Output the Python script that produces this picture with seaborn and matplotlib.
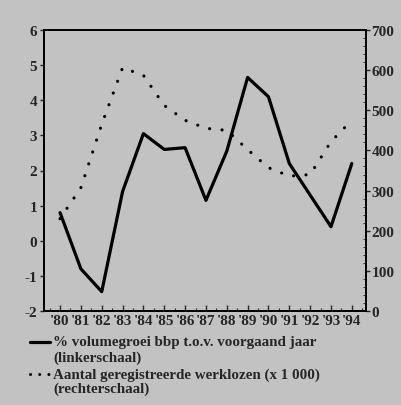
import numpy as np
import pandas as pd
import matplotlib
matplotlib.use('Agg')
import matplotlib.pyplot as plt
from matplotlib.lines import Line2D
import seaborn as sns

# Data
years = ["'80", "'81", "'82", "'83", "'84", "'85", "'86", "'87",
         "'88", "'89", "'90", "'91", "'92", "'93", "'94"]
bbp_groei = [0.8, -0.8, -1.45, 1.4, 3.05, 2.6, 2.65, 1.15,
             2.55, 4.65, 4.1, 2.2, 1.3, 0.4, 2.2]
werklozen = [230, 307, 465, 606, 587, 512, 475, 455,
             450, 402, 357, 336, 340, 422, 475]

df = pd.DataFrame({'idx': range(len(years)), 'bbp': bbp_groei, 'wl': werklozen})

bg = '#c2c2c2'
sns.set_style('ticks')
plt.rcParams['font.family'] = ['Liberation Serif', 'DejaVu Serif']
plt.rcParams['font.weight'] = 'bold'
plt.rcParams['axes.unicode_minus'] = False

fig = plt.figure(figsize=(4.02, 4.06), dpi=100, facecolor=bg)
ax = fig.add_axes([44 / 402, 1 - 312 / 406, (366 - 44) / 402, (312 - 31) / 406])
ax.set_facecolor(bg)
ax2 = ax.twinx()

# solid line: GDP growth, left scale
sns.lineplot(x='idx', y='bbp', data=df, ax=ax, color='black', linewidth=2.3)
# dotted line: registered unemployed, right scale
sns.lineplot(x='idx', y='wl', data=df, ax=ax2, color='black', linewidth=2.3,
             linestyle=(0, (0.01, 3.9)), dash_capstyle='round')

ax.set_xlim(-0.77, 14.68)
ax.set_ylim(-2, 6)
ax2.set_ylim(0, 700)
ax.set_xticks(range(len(years)))
ax.set_xticklabels(years)
ax.set_xticks(np.arange(-0.5, 14.6, 1), minor=True)
ax.set_yticks(range(-2, 7))
ax2.set_yticks(range(0, 701, 100))
ax2.set_yticks(range(0, 701, 20), minor=True)
ax.set_xlabel('')
ax.set_ylabel('')
ax2.set_ylabel('')

for a in (ax, ax2):
    for s in a.spines.values():
        s.set_linewidth(1.3)
        s.set_color('black')

ax.tick_params(axis='x', which='major', direction='in', length=4, width=1,
               labelsize=11, pad=2)
ax.tick_params(axis='x', which='minor', direction='in', length=2, width=0.8)
ax.tick_params(axis='x', top=False, which='both')
ax.tick_params(axis='y', direction='out', length=3, width=1, labelsize=11, pad=2)
ax2.tick_params(axis='y', which='major', direction='out', length=3, width=1,
                labelsize=11, pad=1)
ax2.tick_params(axis='y', which='minor', direction='in', length=2, width=0.6)
for lab in ax.get_xticklabels() + ax.get_yticklabels() + ax2.get_yticklabels():
    lab.set_fontweight('bold')

# legend underneath
fig.add_artist(Line2D([30 / 402, 50 / 402], [1 - 343 / 406] * 2,
                      color='black', linewidth=2.3, transform=fig.transFigure))
fig.add_artist(Line2D([30 / 402, 50 / 402], [1 - 375 / 406] * 2,
                      color='black', linewidth=2.2, linestyle=(0, (0.01, 3.0)),
                      dash_capstyle='round', transform=fig.transFigure))
fs = 10.8
fig.text(53 / 402, 1 - 343 / 406, '% volumegroei bbp t.o.v. voorgaand jaar',
         fontsize=fs, fontweight='bold', va='center', ha='left')
fig.text(53 / 402, 1 - 358 / 406, '(linkerschaal)',
         fontsize=fs, fontweight='bold', va='center', ha='left')
fig.text(53 / 402, 1 - 375 / 406, 'Aantal geregistreerde werklozen (x 1 000)',
         fontsize=fs, fontweight='bold', va='center', ha='left')
fig.text(53 / 402, 1 - 389 / 406, '(rechterschaal)',
         fontsize=fs, fontweight='bold', va='center', ha='left')

fig.savefig('out.png', dpi=100, facecolor=bg)
